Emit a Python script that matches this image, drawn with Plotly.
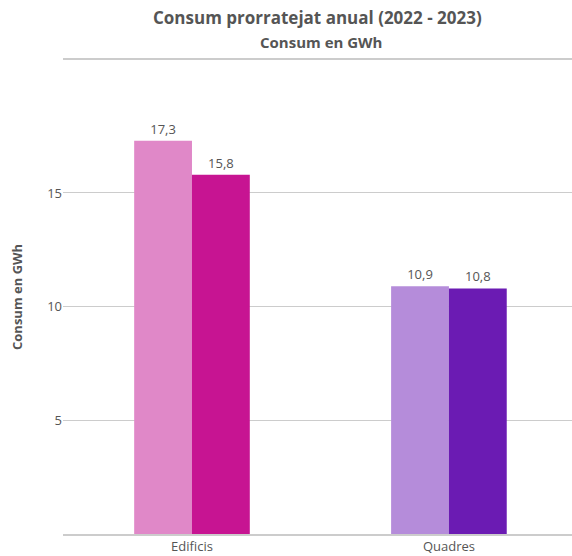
import plotly.graph_objects as go

categories = ["Edificis", "Quadres"]
values_2022 = [17.3, 10.9]
values_2023 = [15.8, 10.8]
colors_2022 = ["#E088C8", "#B58CDA"]
colors_2023 = ["#C71492", "#6B1BB3"]

font_family = "Open Sans, Noto Sans, sans-serif"
grey = "#555555"

fig = go.Figure()
for vals, cols, name in [(values_2022, colors_2022, "2022"), (values_2023, colors_2023, "2023")]:
    fig.add_trace(go.Bar(
        x=categories, y=vals, name=name,
        marker=dict(color=cols, line=dict(width=0)),
        texttemplate="%{y:.1f}", textposition="outside",
        textfont=dict(size=13, color=grey, family=font_family),
        cliponaxis=False,
    ))

PLOT_H = 474.0

fig.update_layout(
    width=572, height=556,
    margin=dict(l=63, r=0, t=60, b=22, autoexpand=False),
    paper_bgcolor="white", plot_bgcolor="white",
    barmode="group", bargap=0.55, bargroupgap=0,
    showlegend=False,
    separators=",.",
    font=dict(family=font_family, color=grey, size=13),
    xaxis=dict(
        range=[-0.502, 1.479], automargin=False,
        showline=True, linecolor="#cccccc", linewidth=1.5, mirror=True,
        ticks="", tickfont=dict(size=13, color=grey),
        showgrid=False, fixedrange=True,
    ),
    yaxis=dict(
        range=[0, 20.85], automargin=False,
        tickvals=[5, 10, 15],
        showgrid=True, gridcolor="#cccccc", gridwidth=1,
        zeroline=False, showline=False,
        ticks="", ticklen=0,
        tickfont=dict(size=13, color=grey),
    ),
    annotations=[
        dict(text="<b>Consum prorratejat anual (2022 - 2023)</b>", xref="paper", yref="paper",
             x=0.5, y=(534 - 18) / PLOT_H, xanchor="center", yanchor="middle", showarrow=False,
             font=dict(size=17, color=grey, family=font_family)),
        dict(text="<b>Consum en GWh</b>", xref="paper", yref="paper",
             x=0.507, y=(534 - 42) / PLOT_H, xanchor="center", yanchor="middle", showarrow=False,
             font=dict(size=15, color=grey, family=font_family)),
        dict(text="<b>Consum en GWh</b>", xref="paper", yref="paper", textangle=-90,
             x=(17 - 63) / 509, y=0.5, xanchor="center", yanchor="middle", showarrow=False,
             font=dict(size=13, color=grey, family=font_family)),
    ],
)

fig.write_html("out.html",
               config={"displayModeBar": False},
               post_script="document.body.style.margin='0';document.body.style.padding='0';")
